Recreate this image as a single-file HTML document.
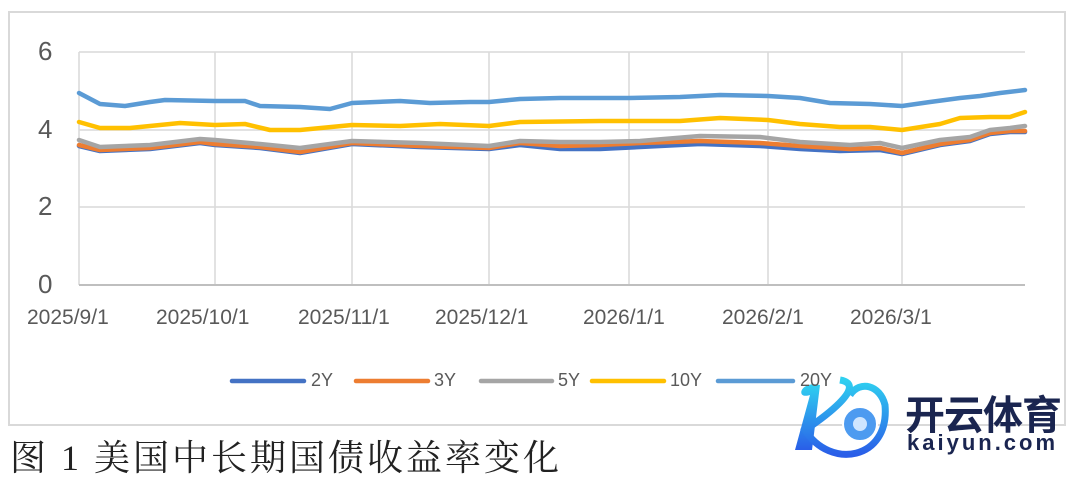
<!DOCTYPE html>
<html><head><meta charset="utf-8"><style>
html,body{margin:0;padding:0;background:#fff;width:1076px;height:478px;overflow:hidden;position:relative}
.t{position:absolute;font-family:"Liberation Sans","Noto Sans CJK SC",sans-serif;color:#595959;white-space:nowrap}
</style></head><body>
<svg width="1076" height="478" style="position:absolute;left:0;top:0">
<rect x="9" y="12" width="1056" height="413" fill="none" stroke="#d9d9d9" stroke-width="2"/>
<g stroke="#d9d9d9" stroke-width="1.5">
<line x1="79" y1="52" x2="1025" y2="52"/><line x1="79" y1="130" x2="1025" y2="130"/><line x1="79" y1="207" x2="1025" y2="207"/>
<line x1="215" y1="52" x2="215" y2="285"/><line x1="352" y1="52" x2="352" y2="285"/><line x1="489" y1="52" x2="489" y2="285"/><line x1="629" y1="52" x2="629" y2="285"/><line x1="768" y1="52" x2="768" y2="285"/><line x1="902" y1="52" x2="902" y2="285"/>
<line x1="79" y1="52" x2="79" y2="285"/>
</g>
<line x1="79" y1="285" x2="1025" y2="285" stroke="#bfbfbf" stroke-width="2"/>
<g fill="none" stroke-width="4.5" stroke-linejoin="round" stroke-linecap="round">
<polyline stroke="#4472c4" points="79,146 100,151 150,149 200,143 215,145 260,148 300,153 352,144 420,147 489,149 520,145 560,149 600,149 640,147 700,144 760,146 800,149 840,151 880,150 902,154 940,145 970,141 990,134 1010,132 1025,132"/>
<polyline stroke="#ed7d31" points="79,145 100,150 150,148 200,142 215,144 260,147 300,152 352,143 420,146 489,148 520,143 560,146 600,145 640,143 700,141 760,143 800,146 850,149 880,148 902,153 940,144 970,140 990,133 1010,131 1025,131"/>
<polyline stroke="#a5a5a5" points="79,140 100,147 150,145 200,139 215,140 260,144 300,148 352,141 420,143 489,146 520,141 560,142 600,142 640,141 700,136 760,137 800,142 850,145 880,143 902,148 940,140 970,137 990,130 1010,128 1025,126"/>
<polyline stroke="#ffc000" points="79,122 100,128 130,128 180,123 215,125 245,124 270,130 300,130 352,125 400,126 440,124 489,126 520,122 600,121 680,121 720,118 768,120 800,124 840,127 870,127 902,130 940,124 960,118 990,117 1010,117 1025,112"/>
<polyline stroke="#5b9bd5" points="79,93 100,104 125,106 150,102 165,100 215,101 245,101 260,106 300,107 330,109 352,103 400,101 430,103 470,102 489,102 520,99 560,98 600,98 629,98 680,97 720,95 768,96 800,98 830,103 870,104 902,106 930,102 960,98 980,96 1000,93 1025,90"/>
</g>
<g stroke-width="4.5" stroke-linecap="round">
<line x1="232" y1="381" x2="304" y2="381" stroke="#4472c4"/>
<line x1="356" y1="381" x2="428" y2="381" stroke="#ed7d31"/>
<line x1="481" y1="381" x2="552" y2="381" stroke="#a5a5a5"/>
<line x1="592" y1="381" x2="664" y2="381" stroke="#ffc000"/>
<line x1="718" y1="381" x2="793" y2="381" stroke="#5b9bd5"/>
</g>
<defs><linearGradient id="g" x1="0" y1="0" x2="0" y2="1"><stop offset="0" stop-color="#2fd0f0"/><stop offset="1" stop-color="#2a5ee8"/></linearGradient></defs>
<path d="M820,385 C800,380 795,400 810,395 L795,450 L812,450 Z" fill="url(#g)"/>
<path d="M840,380 C870,385 820,420 805,430 C830,470 890,460 885,405 C880,385 860,380 850,395" fill="none" stroke="url(#g)" stroke-width="7"/>
<circle cx="860" cy="424" r="17" fill="#4d9bf0" stroke="#fff" stroke-width="2"/>
<circle cx="860" cy="424" r="7" fill="#cfe6ff"/>
</svg>
<div class="t" style="left:38px;top:36px;font-size:26px">6</div>
<div class="t" style="left:38px;top:114px;font-size:26px">4</div>
<div class="t" style="left:38px;top:191px;font-size:26px">2</div>
<div class="t" style="left:38px;top:269px;font-size:26px">0</div>
<div class="t" style="left:27px;top:306px;font-size:21px">2025/9/1</div>
<div class="t" style="left:156px;top:306px;font-size:21px">2025/10/1</div>
<div class="t" style="left:298px;top:306px;font-size:21px">2025/11/1</div>
<div class="t" style="left:435px;top:306px;font-size:21px">2025/12/1</div>
<div class="t" style="left:583px;top:306px;font-size:21px">2026/1/1</div>
<div class="t" style="left:722px;top:306px;font-size:21px">2026/2/1</div>
<div class="t" style="left:850px;top:306px;font-size:21px">2026/3/1</div>
<div class="t" style="left:311px;top:370px;font-size:18px">2Y</div>
<div class="t" style="left:434px;top:370px;font-size:18px">3Y</div>
<div class="t" style="left:558px;top:370px;font-size:18px">5Y</div>
<div class="t" style="left:670px;top:370px;font-size:18px">10Y</div>
<div class="t" style="left:800px;top:370px;font-size:18px">20Y</div>
<div class="t" style="left:10px;top:430px;font-size:36px;color:#222;font-family:'Liberation Serif','Noto Serif CJK SC',serif;letter-spacing:3px">图 1 美国中长期国债收益率变化</div>
<div class="t" style="left:905px;top:383px;font-size:40px;font-weight:bold;color:#1a2550;letter-spacing:-1px">开云体育</div>
<div class="t" style="left:907px;top:430px;font-size:22px;font-weight:bold;color:#1a2550;letter-spacing:3px">kaiyun.com</div>
</body></html>
